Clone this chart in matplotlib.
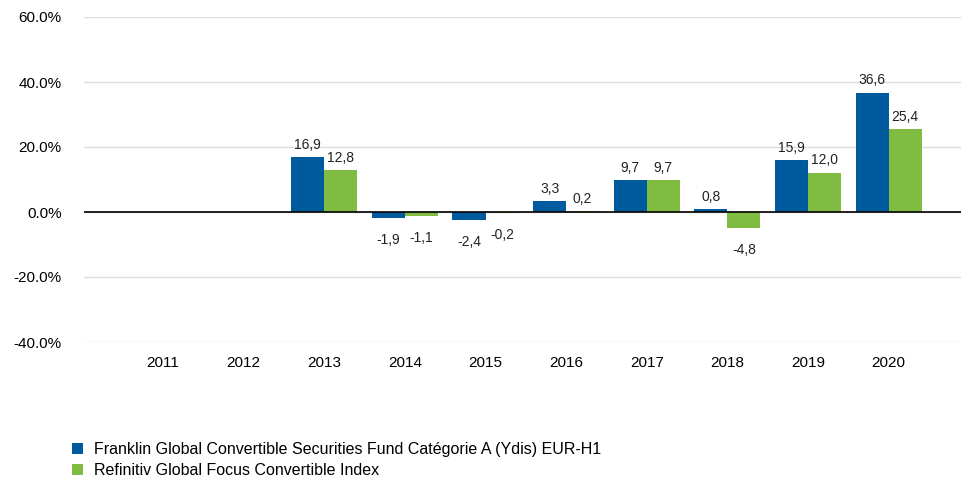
import matplotlib
matplotlib.use("Agg")
import matplotlib.pyplot as plt
import numpy as np

years = ["2011", "2012", "2013", "2014", "2015", "2016", "2017", "2018", "2019", "2020"]
fund = [np.nan, np.nan, 16.9, -1.9, -2.4, 3.3, 9.7, 0.8, 15.9, 36.6]
index = [np.nan, np.nan, 12.8, -1.1, -0.2, 0.2, 9.7, -4.8, 12.0, 25.4]
fund_name = "Franklin Global Convertible Securities Fund Catégorie A (Ydis) EUR-H1"
index_name = "Refinitiv Global Focus Convertible Index"
yticks = [-40, -20, 0, 20, 40, 60]

blue = "#005A9E"
green = "#80BC41"

plt.rcParams['font.family'] = ['Liberation Sans', 'DejaVu Sans']

fig = plt.figure(figsize=(9.62, 4.83), dpi=100)
ax = fig.add_axes([84/962, 1-342/483, 1-84/962, (342-17)/483])

x = np.arange(len(years))
w = 0.41
ax.bar(x - w/2, fund, w, color=blue, label=fund_name, zorder=3)
ax.bar(x + w/2, index, w, color=green, label=index_name, zorder=3)

def fmt(v):
    return f"{v:.1f}".replace(".", ",")

for xs, vals in ((x - w/2, fund), (x + w/2, index)):
    for xi, v in zip(xs, vals):
        if np.isnan(v):
            continue
        if v >= 0:
            ax.annotate(fmt(v), (xi, v), xytext=(0, 4), textcoords="offset points",
                        ha="center", va="bottom", fontsize=10, color="#222222")
        else:
            ax.annotate(fmt(v), (xi, v), xytext=(0, -11), textcoords="offset points",
                        ha="center", va="top", fontsize=10, color="#222222")

ax.set_ylim(-40, 60)
ax.set_xlim(-0.98, 9.91)
ax.set_yticks(yticks)
ax.set_yticklabels([f"{t:.1f}%" for t in yticks], fontsize=11)
ax.set_xticks(x)
ax.set_xticklabels(years, fontsize=11)
ax.tick_params(axis="both", length=0)
ax.tick_params(axis="y", pad=16)
ax.tick_params(axis="x", pad=10)
for s in ax.spines.values():
    s.set_visible(False)
ax.yaxis.grid(True, color="#dcdcdc", linewidth=1.0, zorder=0)
ax.axhline(0, color="black", linewidth=1.2, zorder=4)
ax.set_axisbelow(True)

fig.legend(loc="upper left", bbox_to_anchor=(72/962, 1-442/483), frameon=False,
           fontsize=11.5, handlelength=0.7, handleheight=0.7, handletextpad=0.7,
           labelspacing=0.4, borderaxespad=0, borderpad=0)

fig.savefig("out.png", dpi=100)
